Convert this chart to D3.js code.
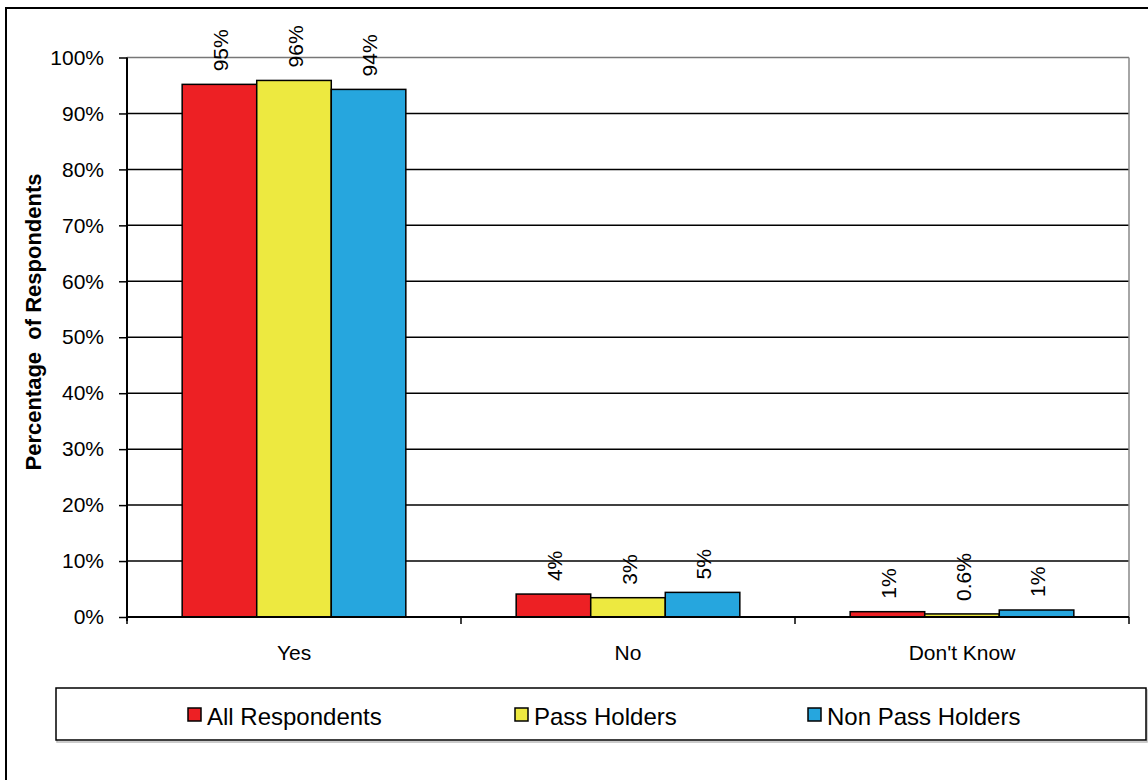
<!DOCTYPE html>
<html>
<head>
<meta charset="utf-8">
<script src="https://cdn.jsdelivr.net/npm/d3@7"></script>
<style>
  html, body { margin: 0; padding: 0; background: #fff; }
  svg { display: block; font-family: "Liberation Sans", Arial, sans-serif; }
</style>
</head>
<body>
<svg id="chart" width="1148" height="780"></svg>
<script>
const categories = ["Yes", "No", "Don't Know"];
const seriesNames = ["All Respondents", "Pass Holders", "Non Pass Holders"];
const seriesColors = ["#ED2024", "#EDE940", "#26A6DE"];
const allRespondents = [0.952, 0.041, 0.0095];
const passHolders = [0.959, 0.0345, 0.0055];
const nonPassHolders = [0.943, 0.044, 0.0125];
const allLabels = ["95%", "4%", "1%"];
const passLabels = ["96%", "3%", "0.6%"];
const nonPassLabels = ["94%", "5%", "1%"];
const yTicks = [0, 0.1, 0.2, 0.3, 0.4, 0.5, 0.6, 0.7, 0.8, 0.9, 1.0];
const yTitle = "Percentage  of Respondents";

const seriesValues = [allRespondents, passHolders, nonPassHolders];
const seriesLabels = [allLabels, passLabels, nonPassLabels];

const svg = d3.select("#chart");
const plot = { left: 127, right: 1129, top: 57.5, bottom: 617 };

// outer frame
svg.append("rect").attr("x", 6).attr("y", 8).attr("width", 1200).attr("height", 900)
  .attr("fill", "none").attr("stroke", "#000").attr("stroke-width", 2);

const x = d3.scaleBand().domain(categories).range([plot.left, plot.right]).padding(0);
const xs = d3.scaleBand().domain(d3.range(seriesNames.length)).range([0, x.bandwidth()])
  .paddingInner(0).paddingOuter(0.74);
const y = d3.scaleLinear().domain([0, 1]).range([plot.bottom, plot.top]);

// gridlines
svg.append("g").selectAll("line").data(yTicks.filter(t => t > 0))
  .join("line")
  .attr("x1", plot.left).attr("x2", plot.right)
  .attr("y1", d => y(d)).attr("y2", d => y(d))
  .attr("stroke", d => d === 1 ? "#777" : "#000")
  .attr("stroke-width", 1.5);

// right plot border
svg.append("line").attr("x1", plot.right).attr("x2", plot.right)
  .attr("y1", plot.top).attr("y2", plot.bottom).attr("stroke", "#888").attr("stroke-width", 1.5);

// bars
const data = [];
categories.forEach((c, ci) => {
  seriesValues.forEach((vals, si) => {
    data.push({ c, si, v: vals[ci], label: seriesLabels[si][ci] });
  });
});
svg.append("g").selectAll("rect").data(data).join("rect")
  .attr("x", d => x(d.c) + xs(d.si))
  .attr("y", d => y(d.v))
  .attr("width", xs.bandwidth())
  .attr("height", d => y(0) - y(d.v))
  .attr("fill", d => seriesColors[d.si])
  .attr("stroke", "#000").attr("stroke-width", 1.5);

// value labels
svg.append("g").selectAll("text").data(data).join("text")
  .attr("transform", d => `translate(${x(d.c) + xs(d.si) + xs.bandwidth() / 2 + 1},${y(d.v) - 13}) rotate(-90)`)
  .attr("dy", "0.36em")
  .attr("text-anchor", "start")
  .attr("font-size", 21)
  .attr("fill", "#000")
  .text(d => d.label);

// y axis
const yAxis = d3.axisLeft(y).tickValues(yTicks).tickFormat(d3.format(".0%")).tickSize(8).tickPadding(15);
const gy = svg.append("g").attr("transform", `translate(${plot.left},0)`).call(yAxis);
gy.select(".domain").remove();
gy.selectAll(".tick line").attr("stroke", "#000").attr("stroke-width", 1.5);
gy.selectAll(".tick text").attr("font-size", 21).attr("fill", "#000")
  .attr("font-family", "'Liberation Sans', Arial, sans-serif");
svg.append("line").attr("x1", plot.left).attr("x2", plot.left)
  .attr("y1", plot.top).attr("y2", plot.bottom + 4).attr("stroke", "#000").attr("stroke-width", 2);

// x axis
const gx = svg.append("g").attr("transform", `translate(0,${plot.bottom})`)
  .call(d3.axisBottom(x).tickSize(0).tickPadding(28));
gx.select(".domain").remove();
gx.selectAll(".tick text").attr("font-size", 21).attr("fill", "#000")
  .attr("font-family", "'Liberation Sans', Arial, sans-serif");
svg.append("line").attr("x1", plot.left).attr("x2", plot.right)
  .attr("y1", plot.bottom).attr("y2", plot.bottom).attr("stroke", "#000").attr("stroke-width", 2);
const boundaries = categories.map(c => x(c)).concat([x(categories[categories.length - 1]) + x.bandwidth()]);
svg.append("g").selectAll("line").data(boundaries).join("line")
  .attr("x1", d => d).attr("x2", d => d)
  .attr("y1", plot.bottom).attr("y2", plot.bottom + 7)
  .attr("stroke", "#000").attr("stroke-width", 1.5);

// y title
svg.append("text")
  .attr("transform", `translate(33,${(172 + 472) / 2}) rotate(-90)`)
  .attr("text-anchor", "middle").attr("dy", "0.36em")
  .attr("font-size", 22).attr("font-weight", "bold").attr("fill", "#000")
  .style("white-space", "pre")
  .text(yTitle);

// legend
svg.append("rect").attr("x", 57).attr("y", 690).attr("width", 1090).attr("height", 52)
  .attr("fill", "none").attr("stroke", "#bbb").attr("stroke-width", 1.5);
svg.append("rect").attr("x", 56).attr("y", 688).attr("width", 1090).attr("height", 52)
  .attr("fill", "#fff").attr("stroke", "#000").attr("stroke-width", 1.5);
const legendX = d3.scaleOrdinal().domain(seriesNames).range([188, 515, 808]);
const lg = svg.append("g").selectAll("g").data(seriesNames).join("g")
  .attr("transform", d => `translate(${legendX(d)},708)`);
lg.append("rect").attr("width", 13).attr("height", 13)
  .attr("fill", (d, i) => seriesColors[i]).attr("stroke", "#000").attr("stroke-width", 1.5);
lg.append("text").attr("x", 19).attr("y", 17).attr("font-size", 24).attr("fill", "#000")
  .text(d => d);
</script>
</body>
</html>
